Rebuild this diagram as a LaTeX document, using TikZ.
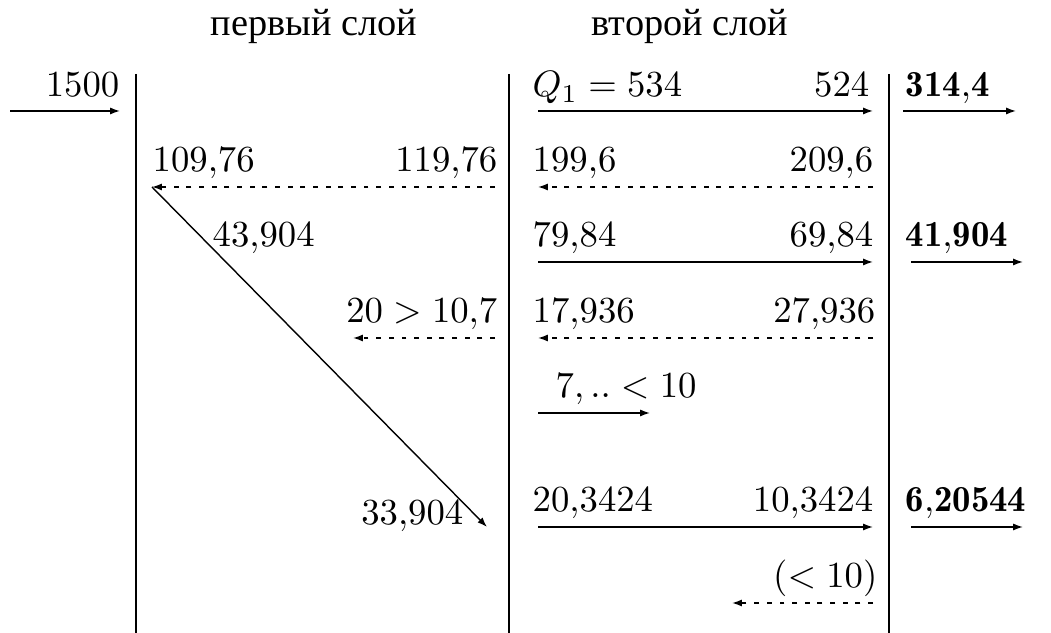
\RequirePackage{fix-cm}
\documentclass[tikz,border=0pt]{standalone}
\usepackage{fontspec}
\newfontfamily\cyrfont{Liberation Serif}
\usetikzlibrary{arrows.meta}
\tikzset{
    every node/.append style={
        font=\fontsize{10.45}{12.5}\selectfont
    },
    layer line/.style={
        thick,
        black
    },
    flow/.style={
        -{Latex[length=2.8pt,width=2pt]}
    },
    back flow/.style={
        flow,
        dash pattern=on 1.4pt off 2.2pt
    },
    val left/.style={anchor=base west, inner sep=0pt},
    val right/.style={anchor=base east, inner sep=0pt},
    layer title/.style={
        anchor=base,
        inner sep=0pt,
        font=\cyrfont\fontsize{10.9}{13}\selectfont
    }
}

\begin{document}
\begin{tikzpicture}
    \useasboundingbox (0,0) rectangle (10.51,-6.33);
    \foreach \x in {1.36,5.09,8.89}
        \draw[layer line] (\x,-0.74) -- (\x,-6.33);
    \node[layer title] (first) at (3.14,-0.36) {первый слой};
    \node[layer title] (second) at (6.90,-0.36) {второй слой};

    \coordinate (feedA) at (0.10,-1.11);
    \coordinate (feedB) at (1.20,-1.11);
    \coordinate (q1a) at (5.38,-1.11);
    \coordinate (q1b) at (8.73,-1.11);
    \coordinate (o1a) at (9.03,-1.11);
    \coordinate (o1b) at (10.16,-1.11);
    \coordinate (r1a) at (4.95,-1.87);
    \coordinate (r1b) at (1.52,-1.87);
    \coordinate (r2a) at (8.73,-1.87);
    \coordinate (r2b) at (5.38,-1.87);
    \coordinate (diag) at (4.87,-5.27);
    \coordinate (q3a) at (5.38,-2.62);
    \coordinate (q3b) at (8.73,-2.62);
    \coordinate (o3a) at (9.11,-2.62);
    \coordinate (o3b) at (10.23,-2.62);
    \coordinate (r3a) at (4.95,-3.38);
    \coordinate (r3b) at (3.53,-3.38);
    \coordinate (r4a) at (8.73,-3.38);
    \coordinate (r4b) at (5.38,-3.38);
    \coordinate (q5a) at (5.38,-4.13);
    \coordinate (q5b) at (6.50,-4.13);
    \coordinate (q6a) at (5.38,-5.27);
    \coordinate (q6b) at (8.73,-5.27);
    \coordinate (o6a) at (9.11,-5.27);
    \coordinate (o6b) at (10.23,-5.27);
    \coordinate (r6a) at (8.73,-6.03);
    \coordinate (r6b) at (7.32,-6.03);

    \node[val right] (v1500) at (1.20,-0.97) {$1500$};
    \node[val left] (vq1) at (5.32,-0.97) {$Q_1 = 534$};
    \node[val right] (v524) at (8.70,-0.97) {$524$};
    \node[val left] (out1) at (9.05,-0.97) {$\mathbf{314{,}4}$};

    \node[val left] (v10976) at (1.52,-1.72) {$109{,}76$};
    \node[val right] (v11976) at (4.98,-1.72) {$119{,}76$};
    \node[val left] (v1996) at (5.32,-1.72) {$199{,}6$};
    \node[val right] (v2096) at (8.74,-1.72) {$209{,}6$};

    \node[val left] (v43904) at (2.12,-2.47) {$43{,}904$};
    \node[val left] (v7984) at (5.32,-2.47) {$79{,}84$};
    \node[val right] (v6984) at (8.74,-2.47) {$69{,}84$};
    \node[val left] (out3) at (9.05,-2.47) {$\mathbf{41{,}904}$};

    \node[val right] (v107) at (4.98,-3.23) {$20 > 10{,}7$};
    \node[val left] (v17936) at (5.32,-3.23) {$17{,}936$};
    \node[val right] (v27936) at (8.76,-3.23) {$27{,}936$};

    \node[val left] (v7) at (5.55,-3.98) {$7, .. < 10$};

    \node[val right] (v33904) at (4.64,-5.25) {$33{,}904$};
    \node[val left] (v203424) at (5.32,-5.12) {$20{,}3424$};
    \node[val right] (v103424) at (8.74,-5.12) {$10{,}3424$};
    \node[val left] (out6) at (9.05,-5.12) {$\mathbf{6{,}20544}$};

    \node[val right] (v10) at (8.78,-5.87) {$(< 10)$};

    \draw[flow] (feedA) -- (feedB);
    \draw[flow] (q1a) -- (q1b);
    \draw[flow] (o1a) -- (o1b);
    \draw[back flow] (r1a) -- (r1b);
    \draw[back flow] (r2a) -- (r2b);
    \draw[flow] (r1b) -- (diag);
    \draw[flow] (q3a) -- (q3b);
    \draw[flow] (o3a) -- (o3b);
    \draw[back flow] (r3a) -- (r3b);
    \draw[back flow] (r4a) -- (r4b);
    \draw[flow] (q5a) -- (q5b);
    \draw[flow] (q6a) -- (q6b);
    \draw[flow] (o6a) -- (o6b);
    \draw[back flow] (r6a) -- (r6b);
\end{tikzpicture}
\end{document}
